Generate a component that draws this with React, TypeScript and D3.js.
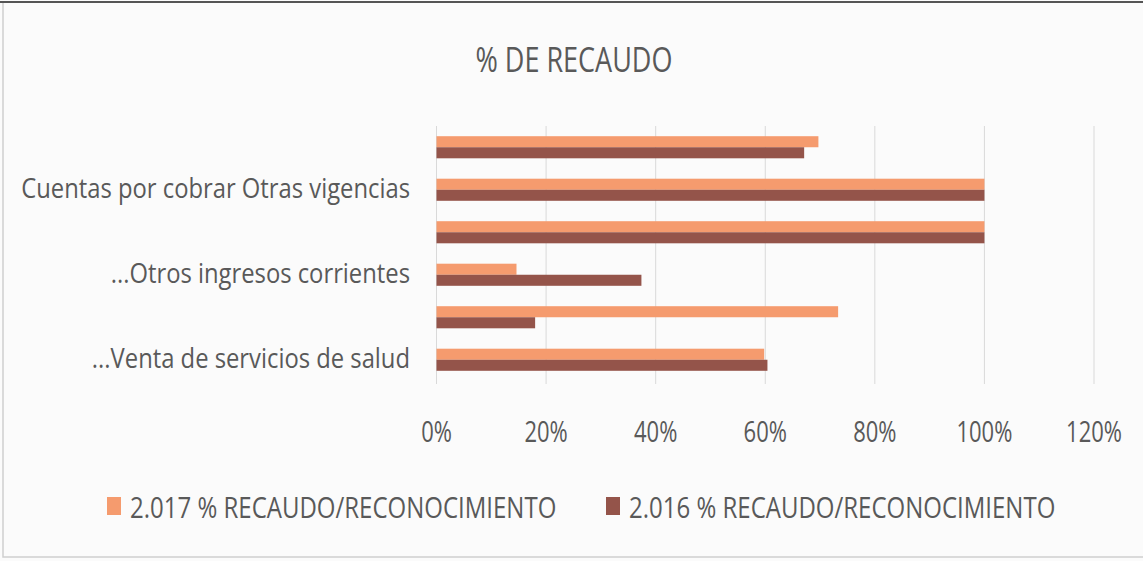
import React from 'react';
import * as d3 from 'd3';

// categories, top to bottom (Excel skipped every other label)
const categoryLabels = [
  '',
  'Cuentas por cobrar Otras vigencias',
  '',
  '...Otros ingresos corrientes',
  '',
  '...Venta de servicios de salud',
];
const seriesNames = ['2.017 % RECAUDO/RECONOCIMIENTO', '2.016 % RECAUDO/RECONOCIMIENTO'];
const values2017 = [0.697, 1.0, 1.0, 0.146, 0.733, 0.598];
const values2016 = [0.671, 1.0, 1.0, 0.374, 0.18, 0.604];
const xTicks = [0, 0.2, 0.4, 0.6, 0.8, 1.0, 1.2];

const colors = ['#f59b6e', '#94544a'];
const textColor = '#595959';
const font = '"Open Sans", "DejaVu Sans", sans-serif';

export default function App() {
  const width = 1143;
  const height = 561;

  const x = d3.scaleLinear().domain([0, 1.2]).range([436.5, 1094]);
  const y = d3.scaleBand<number>()
    .domain(d3.range(categoryLabels.length))
    .range([126, 381])
    .paddingInner(0.48)
    .paddingOuter(0.24);
  const sub = d3.scaleBand<number>()
    .domain([0, 1])
    .range([0, y.bandwidth()]);

  const series = [values2017, values2016];
  const pct = d3.format('.0%');

  // the source image is stretched vertically, so text gets a y scale
  const label = (tx: number, ty: number, txt: string, size: number, anchor: string, sy: number) => (
    <text
      transform={`translate(${tx},${ty}) scale(1,${sy})`}
      fontFamily={font}
      fontSize={size}
      fill={textColor}
      textAnchor={anchor}
    >
      {txt}
    </text>
  );

  const legendX = [107, 606];

  return (
    <svg
      width={width}
      height={height}
      style={{ position: 'absolute', left: 0, top: 0 }}
    >
      <rect x={0} y={0} width={width} height={height} fill="#fbfbfb" />
      <rect x={3} y={2} width={width + 10} height={555} fill="none" stroke="#cfcfcf" strokeWidth={1.5} />
      <line x1={0} x2={width} y1={2} y2={2} stroke="#555" strokeWidth={2} />

      {label(574, 72, '% DE RECAUDO', 27, 'middle', 1.28)}

      {/* gridlines */}
      <g>
        {xTicks.map(t => (
          <line key={t} x1={x(t)} x2={x(t)} y1={126} y2={384} stroke="#d9d9d9" strokeWidth={1} />
        ))}
      </g>

      {/* bars */}
      <g>
        {series.map((vals, s) =>
          vals.map((v, i) => (
            <rect
              key={`${s}-${i}`}
              x={x(0)}
              y={(y(i) as number) + (sub(s) as number)}
              width={x(v) - x(0)}
              height={sub.bandwidth()}
              fill={colors[s]}
            />
          ))
        )}
      </g>

      {/* category labels */}
      <g>
        {categoryLabels.map((c, i) =>
          c ? <g key={i}>{label(410, (y(i) as number) + y.bandwidth() / 2 + 8, c, 23.8, 'end', 1.18)}</g> : null
        )}
      </g>

      {/* x tick labels */}
      <g>
        {xTicks.map(t => (
          <g key={t}>{label(x(t), 442, pct(t), 22, 'middle', 1.3)}</g>
        ))}
      </g>

      {/* legend */}
      <g>
        {seriesNames.map((n, s) => (
          <g key={n}>
            <rect x={legendX[s]} y={497} width={14} height={18} fill={colors[s]} />
            {label(legendX[s] + 23, 518, n, 24, 'start', 1.22)}
          </g>
        ))}
      </g>
    </svg>
  );
}
